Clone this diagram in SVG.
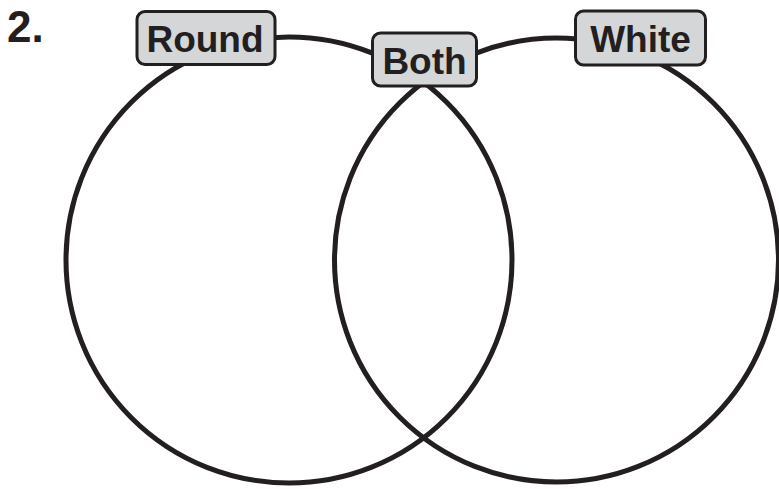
<svg xmlns="http://www.w3.org/2000/svg" width="779" height="489" viewBox="0 0 779 489">
<style>
.ring{fill:none;stroke:#231f20;stroke-width:5}
.box{fill:#d5d6d8;stroke:#231f20;stroke-width:3}
.lbl{font-family:"Liberation Sans",Arial,sans-serif;font-weight:bold;font-size:37px;fill:#231f20;text-anchor:middle}
</style>
<rect width="779" height="489" fill="#fff"/>
<text x="7" y="42" font-family="Liberation Sans, Arial, sans-serif" font-weight="bold" font-size="44" fill="#231f20">2.</text>
<g id="connectors">
<circle class="ring" cx="289" cy="260" r="223"/>
<circle class="ring" cx="556.5" cy="260" r="222"/>
</g>
<g id="round">
<rect class="box" x="137" y="11.5" width="138" height="53" rx="8"/>
<text class="lbl" x="205" y="52">Round</text>
</g>
<g id="both">
<rect class="box" x="372.5" y="33" width="104" height="53" rx="8"/>
<text class="lbl" x="424.5" y="74">Both</text>
</g>
<g id="white">
<rect class="box" x="575.5" y="11" width="130" height="54" rx="8"/>
<text class="lbl" x="640.5" y="52">White</text>
</g>
</svg>
